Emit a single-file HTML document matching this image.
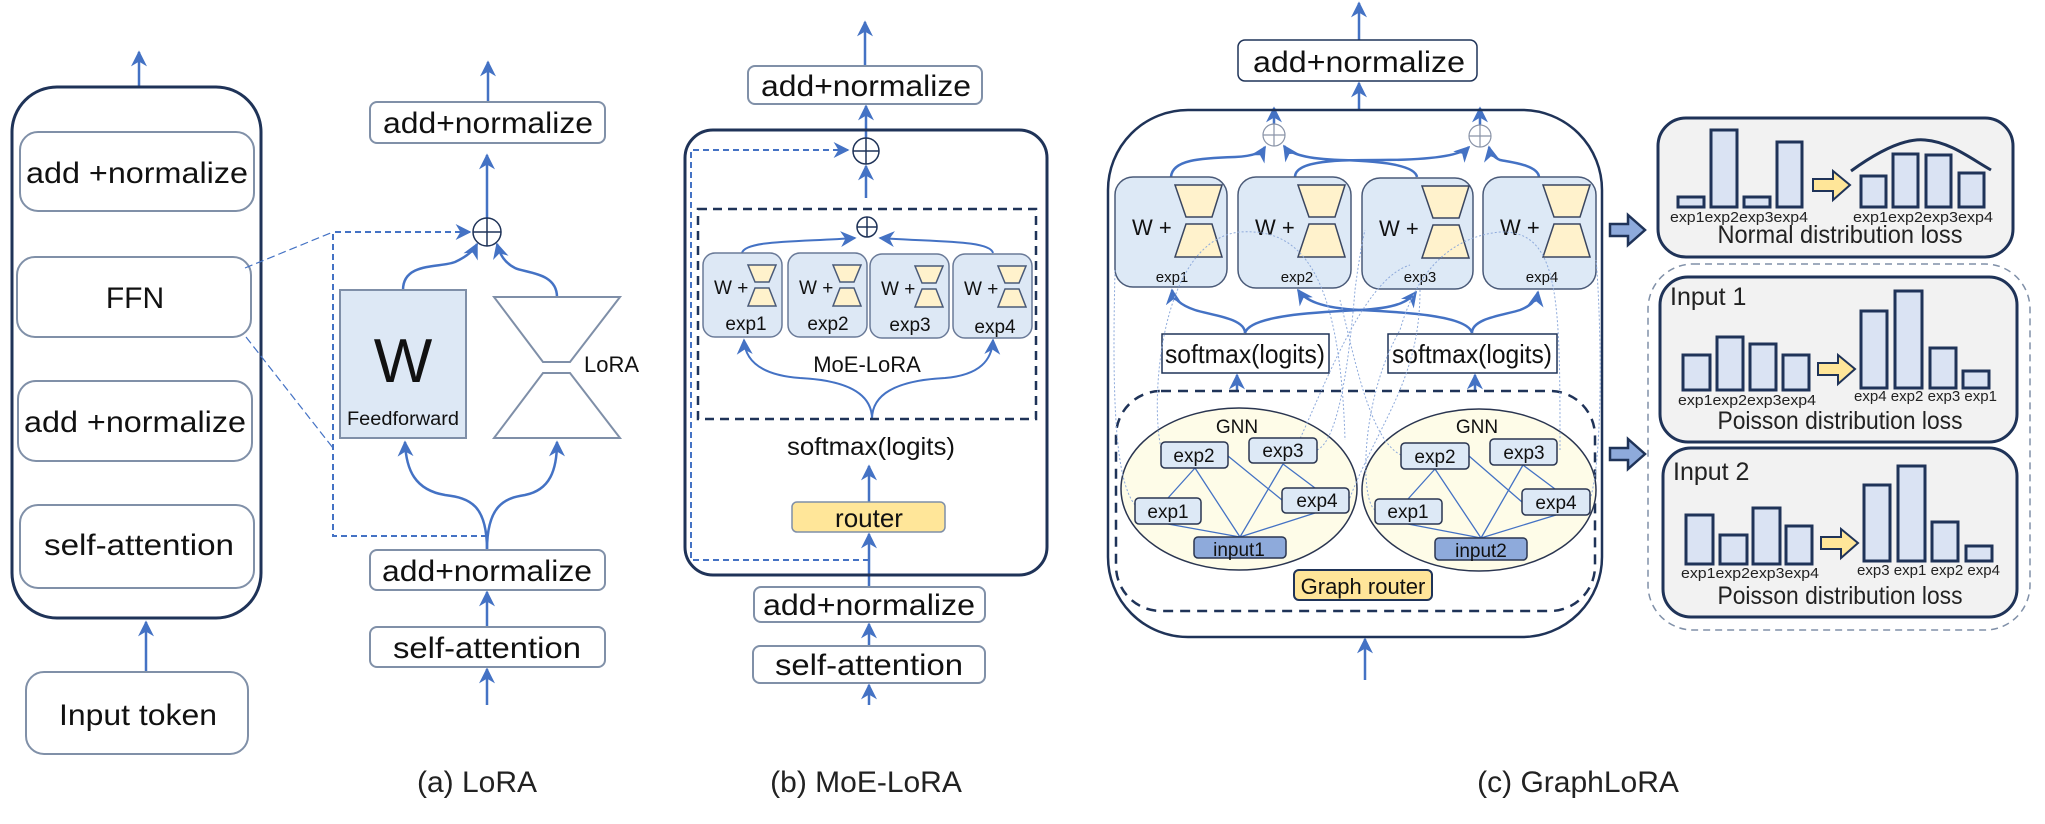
<!DOCTYPE html>
<html><head><meta charset="utf-8"><style>
html,body{margin:0;padding:0;background:#fff;}
svg{display:block;font-family:"Liberation Sans",sans-serif;}
</style></head><body>
<svg width="2045" height="824" viewBox="0 0 2045 824" xmlns="http://www.w3.org/2000/svg">
<defs>
<marker id="ar" viewBox="0 0 10 10" refX="9" refY="5" markerWidth="5" markerHeight="5" orient="auto-start-reverse" markerUnits="userSpaceOnUse" >
<path d="M0,0 L10,5 L0,10 L3,5 z" fill="#4472c4"/></marker>
<marker id="a2" viewBox="0 0 10 10" refX="9" refY="5" markerWidth="16" markerHeight="16" orient="auto" markerUnits="userSpaceOnUse">
<path d="M0,0 L10,5 L0,10 L3,5 z" fill="#4472c4"/></marker>
<g id="hgc"><path d="M60,8 L107,8 L97,40 L71,40 Z M71,47 L97,47 L107,80 L60,80 Z" fill="#fff2cc" stroke="#3a4660" stroke-width="1.5"/></g>
<g id="hgb"><path d="M45,12 L73,12 L66,29 L52,29 Z M52,35 L66,35 L73,53 L45,53 Z" fill="#fff2cc" stroke="#4a5a78" stroke-width="1.5"/></g>
</defs>

<g fill="none" stroke="#4472c4" stroke-width="2.5">
<!-- (a) -->
<line x1="139" y1="87" x2="139" y2="52" marker-end="url(#a2)"/>
<line x1="146" y1="672" x2="146" y2="622" marker-end="url(#a2)"/>
<line x1="488" y1="102" x2="488" y2="62" marker-end="url(#a2)"/>
<line x1="487" y1="218" x2="487" y2="155" marker-end="url(#a2)"/>
<line x1="487" y1="627" x2="487" y2="592" marker-end="url(#a2)"/>
<line x1="487" y1="705" x2="487" y2="669" marker-end="url(#a2)"/>
<path d="M403,290 C403,262 440,268 455,262 C468,256 474,250 477,244" marker-end="url(#a2)"/>
<path d="M557,297 C557,272 525,273 515,268 C505,263 500,255 497,244" marker-end="url(#a2)"/>
<path d="M487,550 C487,505 470,498 445,495 C415,490 406,470 405,442" marker-end="url(#a2)"/>
<path d="M487,550 C487,505 505,498 525,495 C550,490 557,470 557,442" marker-end="url(#a2)"/>
<!-- (b) -->
<line x1="865" y1="66" x2="865" y2="22" marker-end="url(#a2)"/>
<line x1="866" y1="138" x2="866" y2="106" marker-end="url(#a2)"/>
<line x1="866" y1="198" x2="866" y2="166" marker-end="url(#a2)"/>
<line x1="869" y1="502" x2="869" y2="466" marker-end="url(#a2)"/>
<line x1="869" y1="587" x2="869" y2="534" marker-end="url(#a2)"/>
<line x1="869" y1="646" x2="869" y2="624" marker-end="url(#a2)"/>
<line x1="869" y1="705" x2="869" y2="685" marker-end="url(#a2)"/>
<path d="M742,253 C745,240 800,242 855,238" marker-end="url(#a2)" stroke-width="2"/>
<path d="M993,253 C990,240 935,242 880,238" marker-end="url(#a2)" stroke-width="2"/>
<path d="M872,419 C872,390 840,380 800,378 C760,375 745,360 744,340" marker-end="url(#a2)" stroke-width="2"/>
<path d="M872,419 C872,390 905,380 945,378 C980,375 992,360 993,340" marker-end="url(#a2)" stroke-width="2"/>
<!-- (c) -->
<line x1="1359" y1="40" x2="1359" y2="3" marker-end="url(#a2)"/>
<line x1="1359" y1="110" x2="1359" y2="83" marker-end="url(#a2)"/>
<line x1="1274" y1="124" x2="1274" y2="108" marker-end="url(#a2)"/>
<line x1="1480" y1="125" x2="1480" y2="108" marker-end="url(#a2)"/>
<line x1="1365" y1="680" x2="1365" y2="639" marker-end="url(#a2)"/>
<line x1="1237" y1="391" x2="1237" y2="375" marker-end="url(#a2)"/>
<line x1="1475" y1="391" x2="1475" y2="375" marker-end="url(#a2)"/>
<path d="M1171,177 C1172,160 1200,158 1235,157 C1255,156 1262,152 1265,147" marker-end="url(#a2)"/>
<path d="M1295,177 C1295,160 1340,160 1380,160 C1430,160 1460,156 1469,147" marker-end="url(#a2)"/>
<path d="M1417,177 C1415,165 1380,161 1340,160 C1310,159 1290,155 1284,146" marker-end="url(#a2)"/>
<path d="M1539,177 C1538,165 1510,162 1500,160 C1493,157 1490,152 1489,147" marker-end="url(#a2)"/>
<path d="M1245,333 C1245,318 1210,315 1195,310 C1180,305 1173,298 1172,290" marker-end="url(#a2)"/>
<path d="M1245,333 C1250,315 1320,312 1360,310 C1400,308 1410,300 1416,292" marker-end="url(#a2)"/>
<path d="M1472,333 C1468,315 1400,312 1360,310 C1320,308 1305,300 1298,290" marker-end="url(#a2)"/>
<path d="M1472,333 C1472,318 1505,315 1520,310 C1533,305 1537,298 1538,292" marker-end="url(#a2)"/>
</g>

<!-- (a) shapes -->
<rect x="12" y="87" width="249" height="531" rx="45" fill="none" stroke="#1f3358" stroke-width="3"/>
<g fill="#fff" stroke="#8090a8" stroke-width="2">
<rect x="20" y="132" width="234" height="79" rx="18"/>
<rect x="17" y="257" width="234" height="80" rx="18"/>
<rect x="18" y="381" width="234" height="80" rx="18"/>
<rect x="20" y="505" width="234" height="83" rx="18"/>
<rect x="26" y="672" width="222" height="82" rx="18"/>
<rect x="370" y="102" width="235" height="41" rx="7"/>
<rect x="370" y="550" width="235" height="40" rx="7"/>
<rect x="370" y="627" width="235" height="40" rx="7"/>
</g>
<g font-size="30" fill="#111" text-anchor="middle">
<text x="137" y="183" textLength="222" lengthAdjust="spacingAndGlyphs">add +normalize</text>
<text x="135" y="308">FFN</text>
<text x="135" y="432" textLength="222" lengthAdjust="spacingAndGlyphs">add +normalize</text>
<text x="139" y="555" textLength="190" lengthAdjust="spacingAndGlyphs">self-attention</text>
<text x="138" y="725" textLength="158" lengthAdjust="spacingAndGlyphs">Input token</text>
<text x="488" y="133" textLength="210" lengthAdjust="spacingAndGlyphs">add+normalize</text>
<text x="487" y="581" textLength="210" lengthAdjust="spacingAndGlyphs">add+normalize</text>
<text x="487" y="658" textLength="188" lengthAdjust="spacingAndGlyphs">self-attention</text>
</g>
<g fill="none" stroke="#4472c4" stroke-width="2" stroke-dasharray="6,4">
<line x1="245" y1="268" x2="333" y2="232" stroke-width="1.2" stroke-dasharray="8,4"/>
<line x1="246" y1="337" x2="333" y2="448" stroke-width="1.2" stroke-dasharray="8,4"/>
<path d="M487,536 L333,536 L333,232 L470,232" marker-end="url(#a2)"/>
</g>
<circle cx="487" cy="232" r="14" fill="#fff" stroke="#1f3358" stroke-width="1.5"/>
<path d="M473,232 H501 M487,218 V246" stroke="#1f3358" stroke-width="1.5"/>
<rect x="340" y="290" width="126" height="148" fill="#dde8f5" stroke="#7f8fa8" stroke-width="2"/>
<text x="403" y="382" font-size="62" text-anchor="middle" fill="#111">W</text>
<text x="403" y="425" font-size="19" text-anchor="middle" fill="#111" textLength="112" lengthAdjust="spacingAndGlyphs">Feedforward</text>
<path d="M494,297 L620,297 L570,362 L543,362 Z M543,373 L570,373 L620,438 L494,438 Z" fill="#fff" stroke="#7f8fa8" stroke-width="2"/>
<text x="584" y="372" font-size="22" fill="#111">LoRA</text>
<text x="477" y="792" font-size="30" text-anchor="middle" fill="#222">(a) LoRA</text>

<!-- (b) shapes -->
<rect x="685" y="130" width="362" height="445" rx="28" fill="none" stroke="#1f3358" stroke-width="3"/>
<g fill="#fff" stroke="#8090a8" stroke-width="2">
<rect x="748" y="66" width="234" height="38" rx="7"/>
<rect x="754" y="587" width="231" height="35" rx="7"/>
<rect x="753" y="646" width="232" height="37" rx="7"/>
</g>
<g font-size="30" fill="#111" text-anchor="middle">
<text x="866" y="96" textLength="210" lengthAdjust="spacingAndGlyphs">add+normalize</text>
<text x="869" y="615" textLength="212" lengthAdjust="spacingAndGlyphs">add+normalize</text>
<text x="869" y="675" textLength="188" lengthAdjust="spacingAndGlyphs">self-attention</text>
</g>
<path d="M869,560 L691,560 L691,150 L848,150" fill="none" stroke="#4472c4" stroke-width="2" stroke-dasharray="6,4" marker-end="url(#a2)"/>
<circle cx="866" cy="151" r="13" fill="#fff" stroke="#1f3358" stroke-width="1.5"/>
<path d="M853,151 H879 M866,138 V164" stroke="#1f3358" stroke-width="1.5"/>
<rect x="698" y="209" width="338" height="210" fill="none" stroke="#1f3358" stroke-width="2.5" stroke-dasharray="9,6"/>
<circle cx="867" cy="227" r="10" fill="#fff" stroke="#1f3358" stroke-width="1.5"/>
<path d="M857,227 H877 M867,217 V237" stroke="#1f3358" stroke-width="1.5"/>
<g font-size="19" fill="#111">
<g transform="translate(703,253)"><rect width="79" height="84" rx="12" fill="#dde8f5" stroke="#6a7a98" stroke-width="1.5"/><text x="11" y="41">W +</text><use href="#hgb"/><text x="43" y="77" text-anchor="middle">exp1</text></g>
<g transform="translate(788,253)"><rect width="79" height="84" rx="12" fill="#dde8f5" stroke="#6a7a98" stroke-width="1.5"/><text x="11" y="41">W +</text><use href="#hgb"/><text x="40" y="77" text-anchor="middle">exp2</text></g>
<g transform="translate(870,254)"><rect width="79" height="84" rx="12" fill="#dde8f5" stroke="#6a7a98" stroke-width="1.5"/><text x="11" y="41">W +</text><use href="#hgb"/><text x="40" y="77" text-anchor="middle">exp3</text></g>
<g transform="translate(953,254)"><rect width="79" height="84" rx="12" fill="#dde8f5" stroke="#6a7a98" stroke-width="1.5"/><text x="11" y="41">W +</text><use href="#hgb"/><text x="42" y="79" text-anchor="middle">exp4</text></g>
</g>
<text x="867" y="372" font-size="22" text-anchor="middle" fill="#111">MoE-LoRA</text>
<text x="871" y="455" font-size="25" text-anchor="middle" fill="#111" textLength="168" lengthAdjust="spacingAndGlyphs">softmax(logits)</text>
<rect x="792" y="502" width="153" height="30" rx="5" fill="#ffe699" stroke="#7f8fa8" stroke-width="1.5"/>
<text x="869" y="527" font-size="26" text-anchor="middle" fill="#111">router</text>
<text x="866" y="792" font-size="30" text-anchor="middle" fill="#222">(b) MoE-LoRA</text>

<!-- (c) shapes -->
<rect x="1108" y="110" width="494" height="527" rx="80" fill="none" stroke="#1f3358" stroke-width="2.5"/>
<rect x="1238" y="40" width="239" height="41" rx="7" fill="#fff" stroke="#1f3358" stroke-width="1.5"/>
<text x="1359" y="72" font-size="30" text-anchor="middle" fill="#111" textLength="212" lengthAdjust="spacingAndGlyphs">add+normalize</text>
<g fill="#fff" stroke="#8a94a8" stroke-width="1.2">
<circle cx="1274" cy="135" r="11"/><path d="M1263,135 H1285 M1274,124 V146"/>
<circle cx="1480" cy="136" r="11"/><path d="M1469,136 H1491 M1480,125 V147"/>
</g>
<g font-size="22" fill="#111">
<g transform="translate(1115,177)"><rect width="112" height="110" rx="18" fill="#dde9f6" stroke="#4a5a78" stroke-width="1.5"/><text x="17" y="58">W +</text><use href="#hgc"/><text x="57" y="105" font-size="15" text-anchor="middle">exp1</text></g>
<g transform="translate(1238,177)"><rect width="113" height="111" rx="18" fill="#dde9f6" stroke="#4a5a78" stroke-width="1.5"/><text x="17" y="58">W +</text><use href="#hgc"/><text x="59" y="105" font-size="15" text-anchor="middle">exp2</text></g>
<g transform="translate(1362,178)"><rect width="111" height="111" rx="18" fill="#dde9f6" stroke="#4a5a78" stroke-width="1.5"/><text x="17" y="58">W +</text><use href="#hgc"/><text x="58" y="104" font-size="15" text-anchor="middle">exp3</text></g>
<g transform="translate(1483,177)"><rect width="113" height="112" rx="18" fill="#dde9f6" stroke="#4a5a78" stroke-width="1.5"/><text x="17" y="58">W +</text><use href="#hgc"/><text x="59" y="105" font-size="15" text-anchor="middle">exp4</text></g>
</g>
<rect x="1162" y="334" width="167" height="39" fill="#fff" stroke="#1f3358" stroke-width="1.5"/>
<rect x="1388" y="334" width="169" height="39" fill="#fff" stroke="#1f3358" stroke-width="1.5"/>
<text x="1245" y="363" font-size="26" text-anchor="middle" fill="#111" textLength="160" lengthAdjust="spacingAndGlyphs">softmax(logits)</text>
<text x="1472" y="363" font-size="26" text-anchor="middle" fill="#111" textLength="160" lengthAdjust="spacingAndGlyphs">softmax(logits)</text>
<rect x="1116" y="391" width="479" height="220" rx="45" fill="none" stroke="#1f3358" stroke-width="2.5" stroke-dasharray="10,7"/>
<ellipse cx="1239" cy="489" rx="118" ry="81" fill="#fefce8" stroke="#2a3550" stroke-width="1.5"/>
<ellipse cx="1479" cy="490" rx="117" ry="81" fill="#fefce8" stroke="#2a3550" stroke-width="1.5"/>
<g fill="none" stroke="#8eaadb" stroke-width="1" stroke-dasharray="2,2">
<path d="M1135,505 C1115,480 1112,400 1115,270"/>
<path d="M1161,448 C1150,400 1160,240 1240,232 C1300,228 1340,270 1345,440"/>
<path d="M1317,450 C1340,440 1350,350 1355,290 C1360,250 1365,230 1365,230"/>
<path d="M1290,460 C1320,400 1360,280 1410,265"/>
<path d="M1401,455 C1370,440 1355,360 1340,300"/>
<path d="M1375,510 C1360,500 1360,400 1400,330 C1420,260 1460,236 1500,232 C1560,230 1560,300 1560,450"/>
<path d="M1590,500 C1605,450 1600,300 1596,260"/>
<path d="M1420,290 C1420,380 1380,420 1349,500"/>
</g>
<g stroke="#4472c4" stroke-width="1.3">
<path d="M1195,468 L1168,498 M1195,468 L1240,537 M1228,456 L1282,500 M1283,464 L1240,537 M1283,464 L1315,488 M1168,524 L1240,537 M1315,513 L1240,537"/>
<path d="M1435,469 L1408,499 M1435,469 L1481,538 M1469,456 L1522,502 M1523,465 L1481,538 M1523,465 L1555,489 M1408,524 L1481,538 M1556,515 L1481,538"/>
</g>
<g fill="#dde9f6" stroke="#2a3550" stroke-width="1.5">
<rect x="1161" y="442" width="67" height="26" rx="4"/>
<rect x="1249" y="438" width="68" height="25" rx="4"/>
<rect x="1135" y="498" width="66" height="26" rx="4"/>
<rect x="1282" y="488" width="67" height="25" rx="4"/>
<rect x="1401" y="443" width="68" height="26" rx="4"/>
<rect x="1490" y="439" width="67" height="26" rx="4"/>
<rect x="1375" y="499" width="67" height="25" rx="4"/>
<rect x="1522" y="489" width="68" height="26" rx="4"/>
<rect x="1194" y="537" width="92" height="21" rx="4" fill="#8eaadb"/>
<rect x="1435" y="538" width="92" height="22" rx="4" fill="#8eaadb"/>
</g>
<g font-size="19" fill="#111" text-anchor="middle">
<text x="1237" y="433">GNN</text><text x="1477" y="433">GNN</text>
<text x="1194" y="462">exp2</text><text x="1283" y="457">exp3</text><text x="1168" y="518">exp1</text><text x="1317" y="507">exp4</text>
<text x="1435" y="463">exp2</text><text x="1524" y="459">exp3</text><text x="1408" y="518">exp1</text><text x="1556" y="509">exp4</text>
<text x="1239" y="556">input1</text><text x="1481" y="557">input2</text>
</g>
<rect x="1294" y="570" width="138" height="30" rx="5" fill="#ffe599" stroke="#1f3358" stroke-width="2"/>
<text x="1363" y="594" font-size="22" text-anchor="middle" fill="#111">Graph router</text>
<text x="1578" y="792" font-size="30" text-anchor="middle" fill="#222">(c) GraphLoRA</text>

<!-- right panel -->
<g fill="#8eaadb" stroke="#1f3358" stroke-width="2.5">
<path d="M1610,224 L1628,224 L1628,215 L1645,230 L1628,245 L1628,236 L1610,236 Z"/>
<path d="M1610,448 L1628,448 L1628,439 L1645,454 L1628,469 L1628,460 L1610,460 Z"/>
</g>
<rect x="1648" y="264" width="382" height="366" rx="45" fill="none" stroke="#8090a8" stroke-width="1.5" stroke-dasharray="7,5"/>
<g fill="#f2f2f2" stroke="#1f3358" stroke-width="3">
<rect x="1658" y="118" width="355" height="139" rx="28"/>
<rect x="1660" y="277" width="357" height="165" rx="28"/>
<rect x="1663" y="448" width="354" height="169" rx="28"/>
</g>
<g fill="#dae3f3" stroke="#1f3358" stroke-width="3">
<rect x="1678" y="197" width="26" height="10"/><rect x="1711" y="130" width="26" height="77"/><rect x="1744" y="197" width="26" height="10"/><rect x="1777" y="142" width="25" height="65"/>
<rect x="1861" y="176" width="25" height="31"/><rect x="1893" y="154" width="25" height="53"/><rect x="1926" y="155" width="25" height="52"/><rect x="1959" y="173" width="25" height="34"/>
<rect x="1683" y="355" width="27" height="35"/><rect x="1717" y="337" width="26" height="53"/><rect x="1750" y="344" width="26" height="46"/><rect x="1783" y="355" width="26" height="35"/>
<rect x="1861" y="311" width="26" height="77"/><rect x="1895" y="291" width="27" height="97"/><rect x="1930" y="348" width="26" height="40"/><rect x="1963" y="371" width="26" height="17"/>
<rect x="1686" y="515" width="27" height="49"/><rect x="1720" y="535" width="27" height="29"/><rect x="1753" y="508" width="27" height="56"/><rect x="1786" y="526" width="26" height="38"/>
<rect x="1864" y="485" width="26" height="76"/><rect x="1898" y="466" width="27" height="95"/><rect x="1932" y="522" width="26" height="39"/><rect x="1966" y="546" width="26" height="15"/>
</g>
<path d="M1851,171 C1880,150 1905,138 1925,140 C1950,142 1970,158 1991,170" fill="none" stroke="#1f3358" stroke-width="3"/>
<g fill="#ffe699" stroke="#1f3358" stroke-width="2">
<path d="M1813,179 L1833,179 L1833,171 L1850,185 L1833,200 L1833,191 L1813,191 Z"/>
<path d="M1818,363 L1838,363 L1838,355 L1855,369 L1838,384 L1838,375 L1818,375 Z"/>
<path d="M1821,537 L1841,537 L1841,529 L1858,543 L1841,558 L1841,549 L1821,549 Z"/>
</g>
<g font-size="15" fill="#222">
<text x="1670" y="222" textLength="138" lengthAdjust="spacingAndGlyphs">exp1exp2exp3exp4</text>
<text x="1853" y="222" textLength="140" lengthAdjust="spacingAndGlyphs">exp1exp2exp3exp4</text>
<text x="1678" y="405" textLength="138" lengthAdjust="spacingAndGlyphs">exp1exp2exp3exp4</text>
<text x="1854" y="401" textLength="143" lengthAdjust="spacingAndGlyphs">exp4 exp2 exp3 exp1</text>
<text x="1681" y="578" textLength="138" lengthAdjust="spacingAndGlyphs">exp1exp2exp3exp4</text>
<text x="1857" y="575" textLength="143" lengthAdjust="spacingAndGlyphs">exp3 exp1 exp2 exp4</text>
</g>
<g font-size="25" fill="#222">
<text x="1840" y="243" text-anchor="middle" textLength="245" lengthAdjust="spacingAndGlyphs">Normal distribution loss</text>
<text x="1840" y="429" text-anchor="middle" textLength="245" lengthAdjust="spacingAndGlyphs">Poisson distribution loss</text>
<text x="1840" y="604" text-anchor="middle" textLength="245" lengthAdjust="spacingAndGlyphs">Poisson distribution loss</text>
<text x="1670" y="305">Input 1</text>
<text x="1673" y="480">Input 2</text>
</g>
</svg>
</body></html>
